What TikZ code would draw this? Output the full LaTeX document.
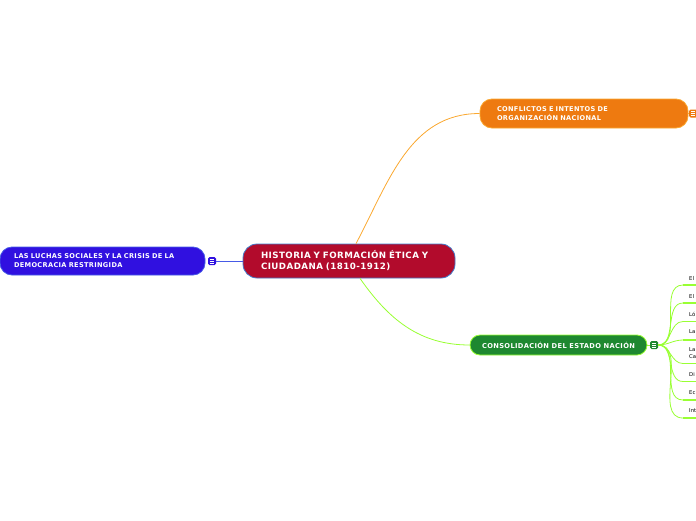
\documentclass[tikz,border=0pt]{standalone}
\usepackage{fontspec}
\setmainfont{DejaVu Sans}
\newfontfamily\mapfont[LetterSpace=5]{DejaVu Sans}
\definecolor{rootred}{RGB}{178,11,44}
\definecolor{rootline}{RGB}{66,124,204}
\definecolor{orangefill}{RGB}{238,122,16}
\definecolor{orangeline}{RGB}{250,168,48}
\definecolor{bluefill}{RGB}{48,16,224}
\definecolor{blueline}{RGB}{70,90,230}
\definecolor{greenfill}{RGB}{30,136,48}
\definecolor{greenline}{RGB}{153,255,51}
\begin{document}
\begin{tikzpicture}[x=1pt,y=-1pt,
  topic/.style={draw,line width=0.8pt,text=white,align=left,inner ysep=0pt,font=\mapfont\fontsize{6.6}{9}\selectfont\bfseries},
  foldicon/.style={draw=none,rounded corners=1.5pt,minimum size=8pt,inner sep=0pt,
    path picture={\foreach \dy in {-1.8,0,1.8} \draw[white,line width=0.6pt] ([shift={(-2.2pt,\dy pt)}]path picture bounding box.center) -- ++(4.4pt,0pt);}},
  leaf/.style={anchor=west,align=left,inner sep=0pt,font=\fontsize{5.3}{6.5}\selectfont},
  twig/.style={greenline,line width=0.8pt}]
\useasboundingbox (0,0) rectangle (696,520);
\clip (0,0) rectangle (696,520);
\node[topic,fill=rootred,draw=rootline,rounded corners=14pt,minimum width=212pt,minimum height=34pt,inner xsep=18pt,text width=176pt,font=\mapfont\fontsize{8.7}{11}\selectfont\bfseries] (root) at (349,261) {HISTORIA Y FORMACIÓN ÉTICA Y\\CIUDADANA (1810-1912)};
\node[topic,fill=orangefill,draw=orangeline,rounded corners=12pt,minimum width=208pt,minimum height=29pt,inner xsep=17pt,text width=174pt] (conflictos) at (584,113.5) {CONFLICTOS E INTENTOS DE\\ORGANIZACIÓN NACIONAL};
\node[topic,fill=bluefill,draw=blueline,rounded corners=12pt,minimum width=205pt,minimum height=28pt,inner xsep=14pt,text width=177pt] (luchas) at (102.5,261) {LAS LUCHAS SOCIALES Y LA CRISIS DE LA\\DEMOCRACIA RESTRINGIDA};
\node[topic,fill=greenfill,draw=greenline,rounded corners=10pt,minimum width=177pt,minimum height=20pt,align=center,font=\mapfont\fontsize{6.7}{9}\selectfont\bfseries] (consolidacion) at (558.5,345) {CONSOLIDACIÓN DEL ESTADO NACIÓN};
\node[foldicon,fill=orangefill] (oicon) at (693,113.5) {};
\node[foldicon,fill=bluefill] (bicon) at (212,261) {};
\node[foldicon,fill=greenfill] (gicon) at (654,345) {};
\draw[orangeline,line width=0.8pt] ([xshift=7pt]root.north) to[out=62,in=180] (conflictos.west);
\draw[greenline,line width=0.8pt] ([xshift=11pt]root.south) to[out=-55,in=180] (consolidacion.west);
\draw[blueline,line width=0.6pt] (bicon.east) -- (root.west);
\draw[orangeline,line width=0.8pt] (conflictos.east) -- (oicon.west);
\draw[twig] (consolidacion.east) -- (gicon.west);
% sub topics, cut by the right edge
\node[leaf] (l1) at (689,278) {El};
\node[leaf] (l2) at (689,296) {El};
\node[leaf] (l3) at (689,314) {Ló};
\node[leaf] (l4) at (689,332) {La};
\node[leaf] (l5) at (689,353) {La\\Ca};
\node[leaf] (l6) at (689,374.5) {Di};
\node[leaf] (l7) at (689,392.5) {Ec};
\node[leaf] (l8) at (689,411) {Int};
\foreach \n/\y in {1/285,2/303,3/321.5,4/340,5/363.5,6/381.5,7/400,8/418}{
  \coordinate (u\n) at (683,\y);
  \draw[twig] (gicon.east) to[out=0,in=180] (u\n);
  \draw[greenline,line width=1.4pt] (u\n) -- ++(20,0);
}
\end{tikzpicture}
\end{document}
